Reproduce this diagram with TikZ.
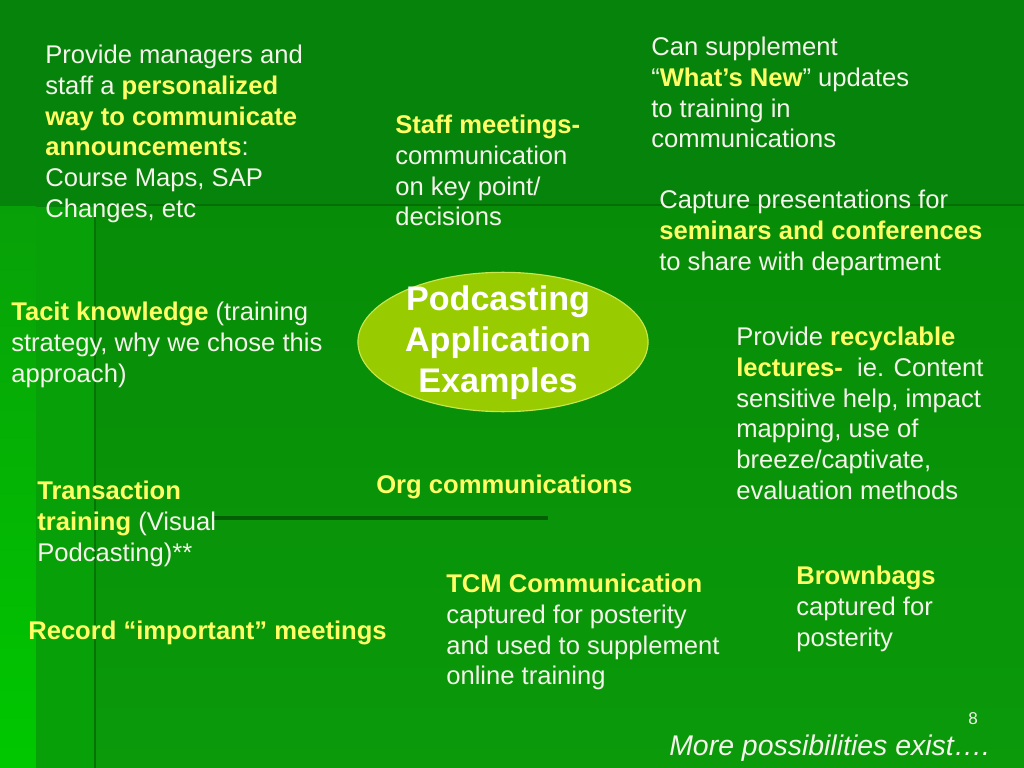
\documentclass[tikz,border=0pt]{standalone}
\usepackage{fontspec}
\setmainfont{Liberation Sans}
\usetikzlibrary{shapes.geometric}
\definecolor{topc}{HTML}{06830A}
\definecolor{panelc}{HTML}{078C07}
\definecolor{panelb}{HTML}{0A9A0A}
\definecolor{stripc}{HTML}{08A008}
\definecolor{edgec}{HTML}{00C800}
\definecolor{rulec}{HTML}{056E05}
\definecolor{ovalc}{HTML}{99CC00}
\definecolor{ovaledge}{HTML}{C8E650}
\definecolor{keyc}{HTML}{FFFF66}
\definecolor{txtc}{HTML}{F4F4EA}
\newcommand{\keyw}[1]{\textbf{\color{keyc}#1}}

\begin{document}
\begin{tikzpicture}[x=0.703125pt,y=-0.703125pt,
      note/.style={anchor=north west,inner sep=0pt,align=left,text=txtc,font=\fontsize{18}{21.6}\selectfont,
        execute at begin node=\strut},
      keynote/.style={note,text=keyc,font=\fontsize{18}{21.6}\selectfont\bfseries},
      hub/.style={ellipse,draw=ovaledge,thick,fill=ovalc,inner sep=0pt,minimum width=204pt,minimum height=98pt,
        align=center,text=white,font=\fontsize{24}{28.8}\selectfont\bfseries},
    ]
    \useasboundingbox (0,0) rectangle (1024,768);
    \fill[topc] (0,0) rectangle (1024,207);
    \shade[top color=stripc,bottom color=edgec] (0,207) rectangle (36,768);
    \fill[stripc] (36,207) rectangle (95,768);
    \shade[top color=panelc,bottom color=panelb] (95,207) rectangle (1024,768);
    \draw[rulec,line width=2pt] (95,205) -- (1024,205);
    \draw[rulec!80!panelc,line width=2pt] (95,207) -- (95,768);
    \draw[rulec!85!black,line width=3.5pt] (214,518) -- (548,518);

    \node[hub] (hub) at (503,342) {};
    \node[note,anchor=center,align=center,text=white,font=\fontsize{24}{28.8}\selectfont\bfseries,
      execute at begin node={}] (title) at (498,345) {Podcasting\\Application\\Examples};

    \node[note] (provide) at (45,45) {Provide managers and\\staff a \keyw{personalized}\\\keyw{way to communicate}\\\keyw{announcements}:\\Course Maps, SAP\\Changes, etc};
    \node[note] (staff) at (395,115) {\keyw{Staff meetings-}\\communication\\on key point/\\decisions};
    \node[note] (supplement) at (651,37) {Can supplement\\“\keyw{What’s New}” updates\\to training in\\communications};
    \node[note] (capture) at (659,190) {Capture presentations for\\\keyw{seminars and conferences}\\to share with department};
    \node[note] (tacit) at (11,302) {\keyw{Tacit knowledge} (training\\strategy, why we chose this\\approach)};
    \node[note] (recycle) at (736,327) {Provide \keyw{recyclable}\\\keyw{lectures-}\ \ ie. Content\\sensitive help, impact\\mapping, use of\\breeze/captivate,\\evaluation methods};
    \node[keynote] (org) at (376,472) {Org communications};
    \node[note] (transact) at (37,481) {\keyw{Transaction}\\\keyw{training} (Visual\\Podcasting)**};
    \node[keynote] (record) at (28,618) {Record “important” meetings};
    \node[note] (tcm) at (446,574) {\keyw{TCM Communication}\\captured for posterity\\and used to supplement\\online training};
    \node[note] (brownbags) at (796,566) {\keyw{Brownbags}\\captured for\\posterity};
    \node[note,anchor=base,font=\fontsize{12}{14}\selectfont] (pagenum) at (973,724) {8};
    \node[note,anchor=base west,font=\fontsize{20}{24}\selectfont\itshape] (more) at (669,755) {More possibilities exist….};
  \end{tikzpicture}
\end{document}
